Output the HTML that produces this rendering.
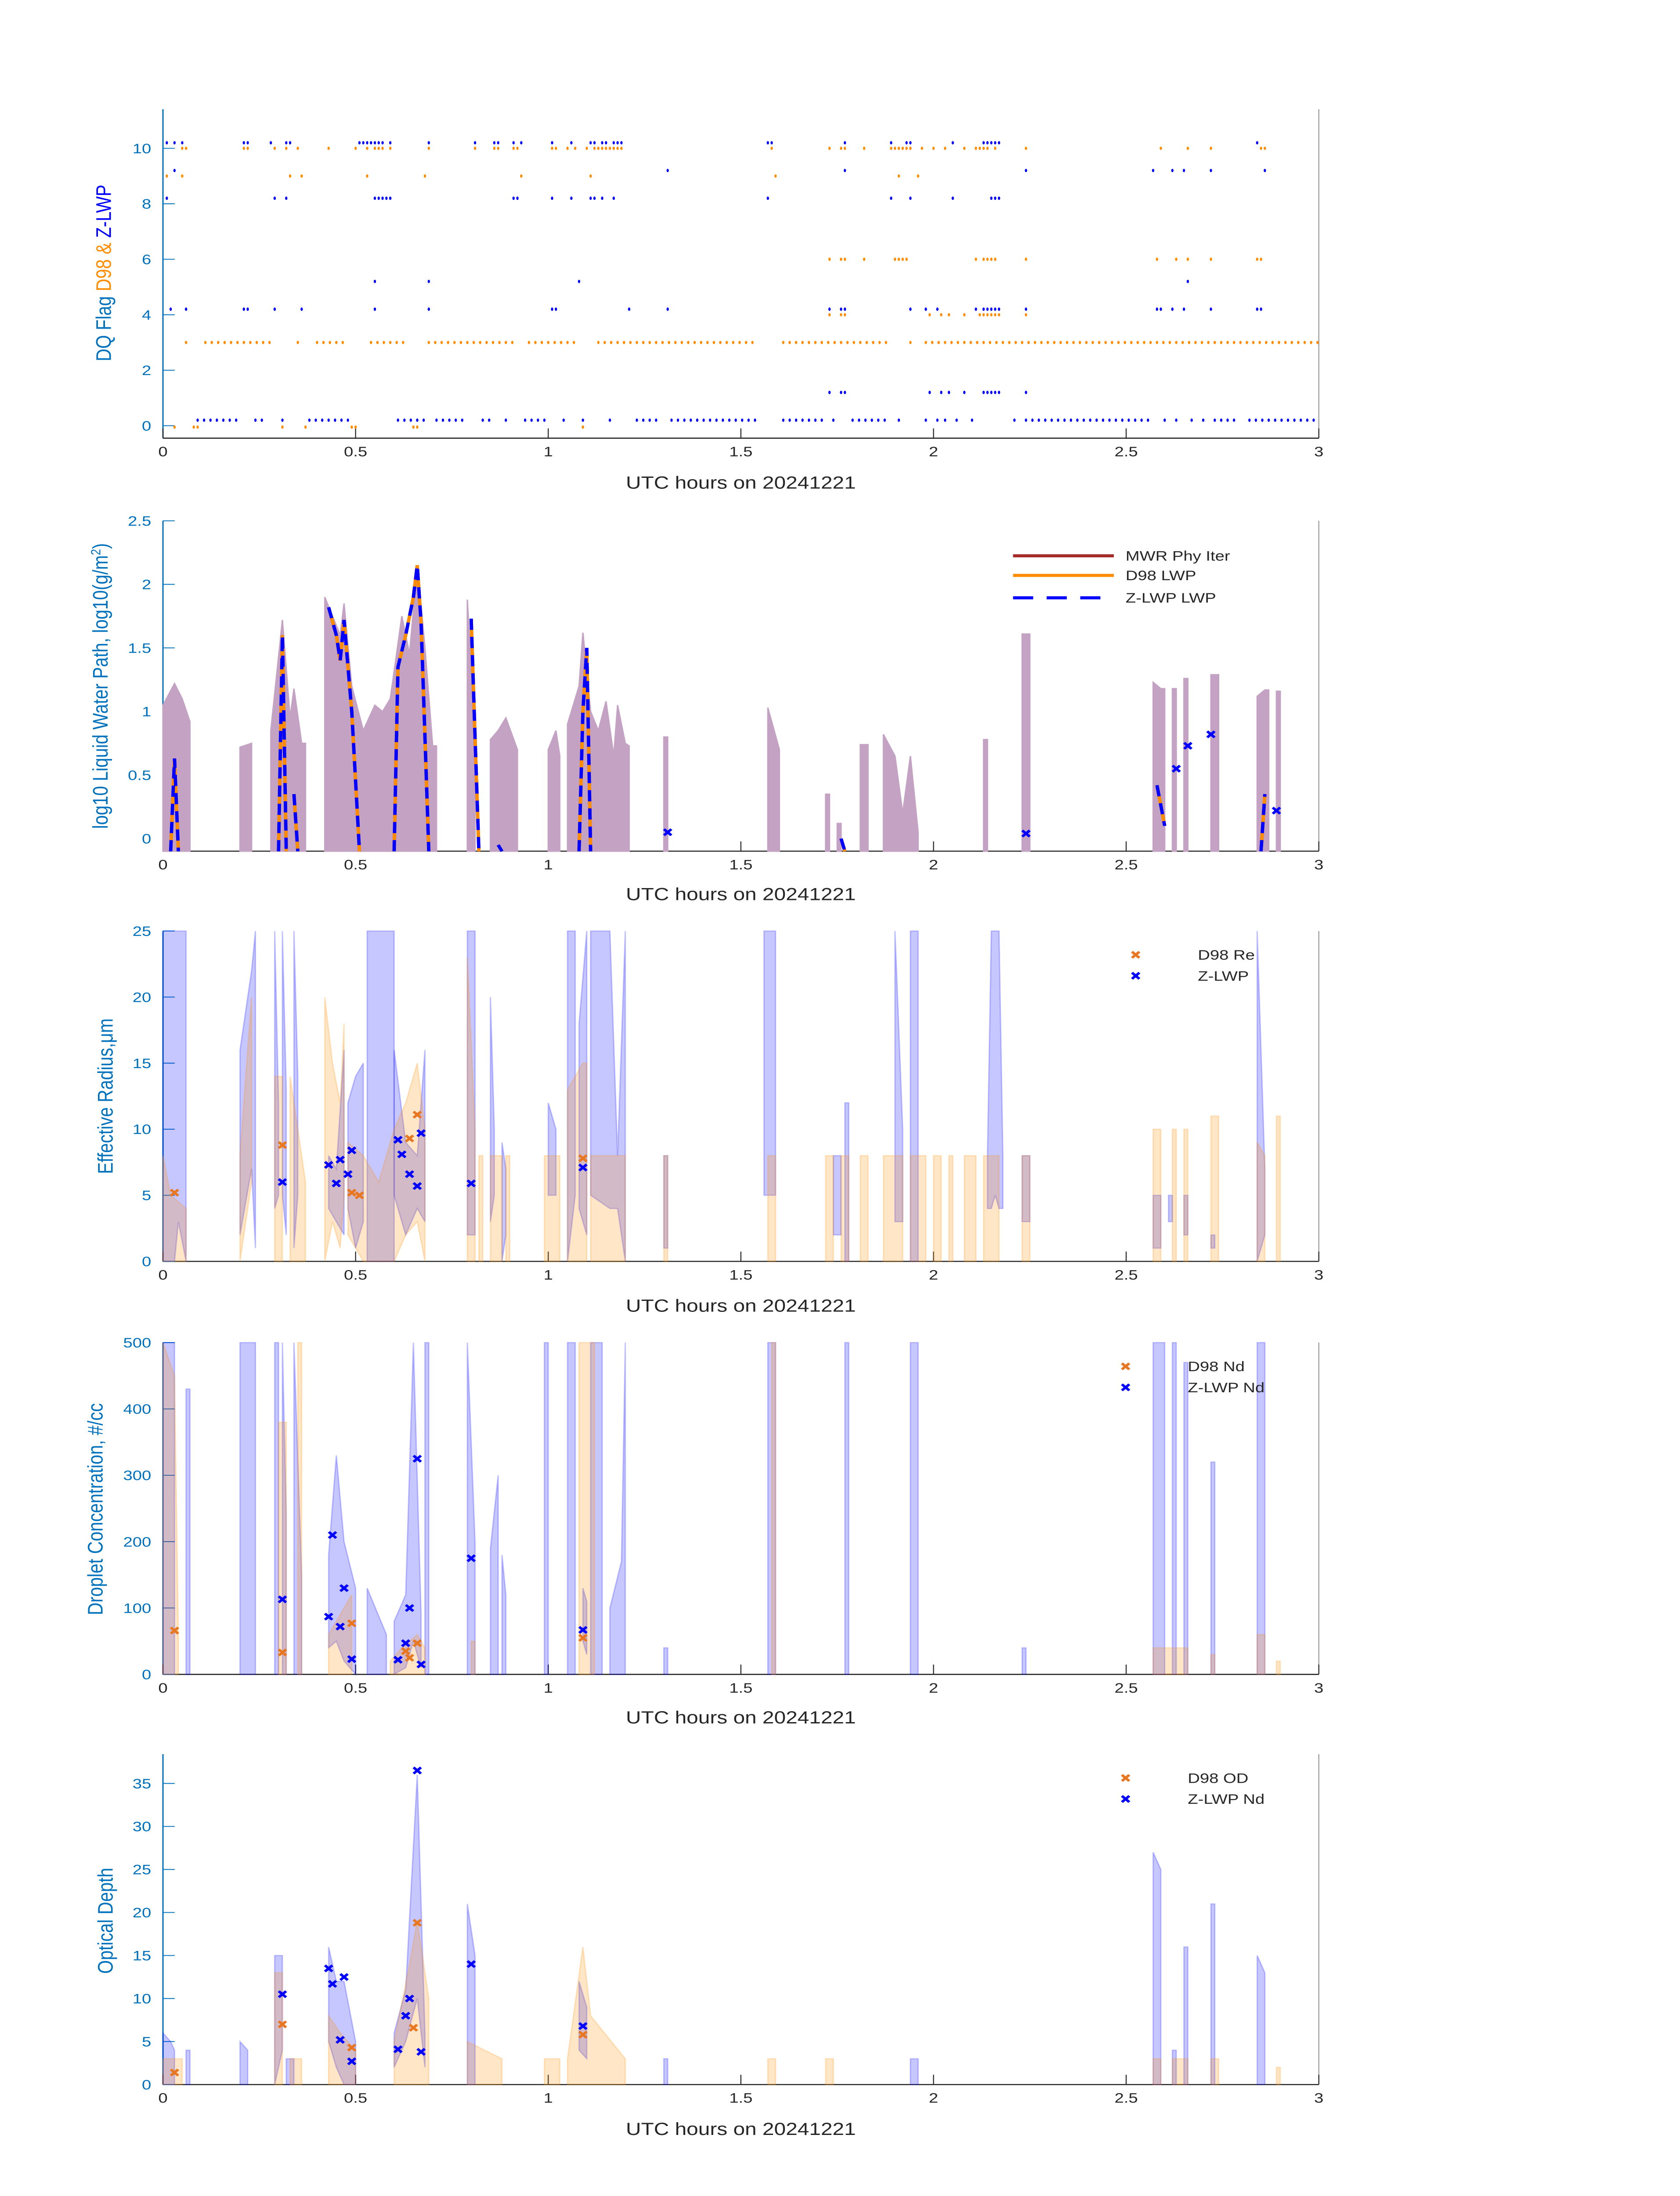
<!DOCTYPE html>
<html><head><meta charset="utf-8"><style>
html,body{margin:0;padding:0;background:#fff;width:100%;height:100%;overflow:hidden;}
svg{display:block;position:absolute;left:0;top:0;width:100vw;height:100vh;font-family:"Liberation Sans","DejaVu Sans",sans-serif;}
</style></head><body>
<svg id="fig" viewBox="0 0 1000 1568.6" preserveAspectRatio="none" xmlns="http://www.w3.org/2000/svg">
<rect x="0" y="0" width="1000" height="1568.6" fill="#fff"/>
</svg>
<script>
// ---------------- DATA ----------------
const zFlag10 = [0.01,0.03,0.05,0.21,0.22,0.28,0.32,0.33,0.51,0.52,0.53,0.54,0.55,0.56,0.57,0.59,0.69,0.81,0.86,0.87,0.91,0.93,1.01,1.06,1.11,1.12,1.14,1.15,1.17,1.18,1.19,1.57,1.58,1.77,1.89,1.93,1.94,2.05,2.13,2.14,2.15,2.16,2.17,2.84];
const dFlag10 = [0.05,0.06,0.21,0.22,0.29,0.32,0.35,0.43,0.5,0.53,0.55,0.56,0.57,0.59,0.69,0.81,0.86,0.87,0.91,0.92,1.01,1.02,1.05,1.07,1.1,1.12,1.13,1.14,1.15,1.16,1.17,1.18,1.19,1.58,1.73,1.76,1.77,1.82,1.89,1.9,1.91,1.92,1.93,1.94,1.97,2.0,2.03,2.08,2.11,2.12,2.13,2.14,2.16,2.24,2.59,2.66,2.72,2.85,2.86];
const zFlag9 = [0.03,1.31,1.77,2.24,2.57,2.62,2.65,2.72,2.86];
const dFlag9 = [0.01,0.05,0.33,0.36,0.53,0.68,0.93,1.11,1.59,1.91,1.96];
const zFlag8 = [0.01,0.29,0.32,0.55,0.56,0.57,0.58,0.59,0.91,0.92,1.01,1.06,1.11,1.12,1.14,1.17,1.57,1.89,1.94,2.05,2.15,2.16,2.17];
const dFlag6 = [1.73,1.76,1.77,1.82,1.90,1.91,1.92,1.93,2.11,2.13,2.14,2.15,2.16,2.24,2.58,2.63,2.66,2.72,2.84,2.85];
const zFlag5 = [0.55,0.69,1.08,2.66];
const zFlag4 = [0.02,0.06,0.21,0.22,0.29,0.36,0.55,0.69,1.01,1.02,1.21,1.31,1.73,1.76,1.77,1.94,1.98,2.01,2.11,2.13,2.14,2.15,2.16,2.17,2.24,2.58,2.59,2.62,2.65,2.72,2.84,2.85];
const dFlag4 = [1.73,1.76,1.77,1.99,2.02,2.04,2.08,2.12,2.13,2.14,2.15,2.16,2.17,2.24];
const dFlag3Runs = [[0.06,0.06],[0.11,0.29],[0.35,0.35],[0.40,0.47],[0.54,0.63],[0.69,0.92],[0.95,1.07],[1.13,1.54],[1.61,1.89],[1.94,1.95],[1.98,3.0]];
const zFlag1 = [1.73,1.76,1.77,1.99,2.02,2.04,2.08,2.13,2.14,2.15,2.16,2.17,2.24];
const zFlag0Runs = [[0.09,0.20],[0.24,0.27],[0.31,0.31],[0.38,0.49],[0.61,0.68],[0.71,0.79],[0.83,0.85],[0.89,0.89],[0.94,0.99],[1.04,1.04],[1.09,1.09],[1.16,1.16],[1.23,1.28],[1.32,1.55],[1.61,1.71],[1.74,1.74],[1.79,1.88],[1.91,1.92],[1.98,1.98],[2.01,2.01],[2.03,2.03],[2.06,2.07],[2.10,2.10],[2.21,2.22],[2.24,2.57],[2.60,2.60],[2.63,2.63],[2.67,2.68],[2.70,2.70],[2.73,2.79],[2.82,3.0]];
const dFlag0 = [0.03,0.08,0.09,0.31,0.37,0.49,0.50,0.65,0.66,1.09];

const lwpBands = [
 [[0.0,1.05],[0.03,1.22],[0.05,1.1],[0.07,0.92]],
 [[0.20,0.72],[0.23,0.75]],
 [[0.28,0.85],[0.31,1.72],[0.33,0.95],[0.34,1.18],[0.36,0.75],[0.37,0.75]],
 [[0.42,1.9],[0.46,1.6],[0.47,1.85],[0.49,1.2],[0.52,0.85],[0.55,1.05],[0.57,1.0],[0.59,1.1],[0.62,1.75],[0.64,1.45],[0.66,2.15],[0.68,1.5],[0.70,0.73],[0.71,0.73]],
 [[0.79,1.88],[0.81,0.8]],
 [[0.85,0.78],[0.87,0.85],[0.89,0.95],[0.92,0.7]],
 [[1.0,0.7],[1.02,0.85],[1.03,0.65]],
 [[1.05,0.9],[1.08,1.2],[1.09,1.62],[1.11,1.0],[1.13,0.85],[1.15,1.08],[1.17,0.65],[1.18,1.05],[1.20,0.75],[1.21,0.73]],
 [[1.30,0.8],[1.31,0.8]],
 [[1.57,1.03],[1.60,0.7]],
 [[1.72,0.35],[1.73,0.35]],
 [[1.75,0.12],[1.76,0.12]],
 [[1.81,0.74],[1.83,0.74]],
 [[1.87,0.82],[1.90,0.65],[1.92,0.2],[1.94,0.65],[1.96,0.05]],
 [[2.13,0.78],[2.14,0.78]],
 [[2.23,1.61],[2.25,1.61]],
 [[2.57,1.23],[2.59,1.18],[2.60,1.18]],
 [[2.62,1.18],[2.63,1.18]],
 [[2.65,1.26],[2.66,1.26]],
 [[2.72,1.29],[2.74,1.29]],
 [[2.84,1.12],[2.86,1.17],[2.87,1.17]],
 [[2.89,1.16],[2.90,1.16]]
];
const lwpLines = [
 [[0.02,-0.1],[0.03,0.63],[0.04,-0.1]],
 [[0.30,-0.1],[0.31,1.6],[0.32,-0.1]],
 [[0.34,0.35],[0.35,-0.1]],
 [[0.43,1.82],[0.45,1.6],[0.46,1.4],[0.47,1.72],[0.49,1.0],[0.51,-0.1]],
 [[0.60,-0.1],[0.61,1.35],[0.63,1.6],[0.65,1.9],[0.66,2.15],[0.67,1.7],[0.69,-0.1]],
 [[0.80,1.73],[0.81,0.8],[0.82,-0.1]],
 [[0.87,-0.05],[0.88,-0.1]],
 [[1.08,-0.1],[1.09,1.0],[1.10,1.5],[1.11,-0.1]],
 [[1.76,0.0],[1.77,-0.1]],
 [[2.58,0.42],[2.60,0.1]],
 [[2.85,-0.1],[2.86,0.35]]
];
const lwpZT = [1.31,2.24,2.63,2.66,2.72,2.89];
const lwpZV = [0.05,0.04,0.55,0.73,0.82,0.22];

const reBlueBands = [
 [[0.0,0,25],[0.03,0,25],[0.04,3,25],[0.06,0,25]],
 [[0.20,2,16],[0.23,7,22],[0.24,1,25]],
 [[0.29,4,25],[0.30,5,12]],
 [[0.31,5,25],[0.32,2,13]],
 [[0.34,1,25],[0.35,5,14]],
 [[0.43,4,8],[0.45,3,7],[0.47,2,16]],
 [[0.48,4,12],[0.50,1,14],[0.52,3,15]],
 [[0.53,0,25],[0.60,0,25]],
 [[0.60,5,16],[0.63,2,9],[0.66,4,8],[0.68,3,16]],
 [[0.79,2,25],[0.81,2,25]],
 [[0.85,3,20],[0.86,5,10]],
 [[0.88,0,9],[0.89,2,7]],
 [[1.0,5,12],[1.02,5,10]],
 [[1.05,0,25],[1.07,5,25]],
 [[1.08,4,18],[1.10,2,25]],
 [[1.11,5,25],[1.16,4,25],[1.18,4,8],[1.20,0,25]],
 [[1.30,1,8],[1.31,1,8]],
 [[1.56,5,25],[1.59,5,25]],
 [[1.74,2,8],[1.76,2,8]],
 [[1.77,0,12],[1.78,0,12]],
 [[1.90,3,25],[1.92,3,10]],
 [[1.94,0,25],[1.96,0,25]],
 [[2.14,4,8],[2.15,4,25],[2.16,5,25],[2.17,4,25],[2.18,4,8]],
 [[2.23,3,8],[2.25,3,8]],
 [[2.57,1,5],[2.59,1,5]],
 [[2.61,3,5],[2.62,3,5]],
 [[2.65,2,5],[2.66,2,5]],
 [[2.72,1,2],[2.73,1,2]],
 [[2.84,0,25],[2.86,2,7]]
];
const reOrangeBands = [
 [[0.0,0,8],[0.02,0,5],[0.06,0,4]],
 [[0.20,0,8],[0.23,6,20]],
 [[0.29,0,14],[0.31,0,14]],
 [[0.33,0,14],[0.37,0,6]],
 [[0.42,0,20],[0.44,3,15],[0.46,1,12],[0.47,5,18]],
 [[0.48,2,9],[0.52,0,8],[0.56,0,6],[0.60,0,10],[0.63,2,12],[0.66,3,15],[0.68,0,10]],
 [[0.79,0,23],[0.81,0,10]],
 [[0.82,0,8],[0.83,0,8]],
 [[0.85,0,8],[0.88,0,8]],
 [[0.89,0,8],[0.90,0,8]],
 [[0.99,0,8],[1.03,0,8]],
 [[1.05,0,13],[1.09,0,15],[1.10,0,15]],
 [[1.11,0,8],[1.20,0,8]],
 [[1.30,0,8],[1.31,0,8]],
 [[1.57,0,8],[1.59,0,8]],
 [[1.72,0,8],[1.74,0,8]],
 [[1.76,0,8],[1.78,0,8]],
 [[1.81,0,8],[1.83,0,8]],
 [[1.87,0,8],[1.92,0,8]],
 [[1.94,0,8],[1.98,0,8]],
 [[2.0,0,8],[2.02,0,8]],
 [[2.04,0,8],[2.05,0,8]],
 [[2.08,0,8],[2.11,0,8]],
 [[2.13,0,8],[2.17,0,8]],
 [[2.23,0,8],[2.25,0,8]],
 [[2.57,0,10],[2.59,0,10]],
 [[2.62,0,10],[2.63,0,10]],
 [[2.65,0,10],[2.66,0,10]],
 [[2.72,0,11],[2.74,0,11]],
 [[2.84,0,9],[2.86,0,8]],
 [[2.89,0,11],[2.90,0,11]]
];
const reDT = [0.03,0.31,0.49,0.51,0.64,0.66,1.09];
const reDV = [5.2,8.8,5.2,5.0,9.3,11.1,7.8];
const reZT = [0.31,0.43,0.45,0.46,0.48,0.49,0.61,0.62,0.64,0.66,0.67,0.80,1.09];
const reZV = [6.0,7.3,5.9,7.7,6.6,8.4,9.2,8.1,6.6,5.7,9.7,5.9,7.1];

const ndBlueBands = [
 [[0.0,0,500],[0.03,0,500]],
 [[0.06,0,430],[0.07,0,430]],
 [[0.20,0,500],[0.24,0,500]],
 [[0.29,0,500],[0.30,0,500]],
 [[0.31,0,500],[0.32,0,240]],
 [[0.34,0,500],[0.36,0,150]],
 [[0.43,40,180],[0.45,50,330],[0.47,20,200],[0.50,0,130]],
 [[0.53,0,130],[0.58,0,60]],
 [[0.60,0,80],[0.63,10,120],[0.65,50,500],[0.67,10,90]],
 [[0.68,0,500],[0.69,0,500]],
 [[0.79,0,500],[0.81,0,200]],
 [[0.85,0,190],[0.87,0,300]],
 [[0.88,0,180],[0.89,0,120]],
 [[0.99,0,500],[1.00,0,500]],
 [[1.05,0,500],[1.07,0,500]],
 [[1.09,50,130],[1.10,30,110]],
 [[1.11,0,500],[1.14,0,500]],
 [[1.16,0,100],[1.19,0,170],[1.20,0,500]],
 [[1.30,0,40],[1.31,0,40]],
 [[1.57,0,500],[1.59,0,500]],
 [[1.77,0,500],[1.78,0,500]],
 [[1.94,0,500],[1.96,0,500]],
 [[2.23,0,40],[2.24,0,40]],
 [[2.57,0,500],[2.60,0,500]],
 [[2.62,0,500],[2.63,0,500]],
 [[2.65,0,470],[2.66,0,470]],
 [[2.72,0,320],[2.73,0,320]],
 [[2.84,0,500],[2.86,0,500]]
];
const ndOrangeBands = [
 [[0.0,0,500],[0.03,0,450],[0.04,0,60]],
 [[0.30,0,380],[0.32,0,380]],
 [[0.35,0,500],[0.36,0,500]],
 [[0.43,0,60],[0.49,0,120]],
 [[0.59,0,20],[0.62,0,40],[0.66,0,60],[0.68,0,40]],
 [[0.80,0,50],[0.81,0,50]],
 [[1.08,0,500],[1.12,0,500]],
 [[1.58,0,500],[1.59,0,500]],
 [[2.57,0,40],[2.66,0,40]],
 [[2.72,0,30],[2.73,0,30]],
 [[2.84,0,60],[2.86,0,60]],
 [[2.89,0,20],[2.90,0,20]]
];
const ndDT = [0.03,0.31,0.49,0.63,0.64,0.66,1.09];
const ndDV = [66,33,77,35,25,47,55];
const ndZT = [0.31,0.43,0.44,0.46,0.47,0.49,0.61,0.63,0.64,0.66,0.67,0.80,1.09];
const ndZV = [113,87,210,72,130,23,22,47,100,325,15,175,67];

const odBlueBands = [
 [[0.0,0,6],[0.02,0,5],[0.03,0,4]],
 [[0.06,0,4],[0.07,0,4]],
 [[0.20,0,5],[0.22,0,4]],
 [[0.29,0,15],[0.31,4,15]],
 [[0.32,0,3],[0.34,0,3]],
 [[0.43,5,16],[0.45,2,12],[0.47,0,12],[0.50,0,5]],
 [[0.60,2,6],[0.63,5,11],[0.66,10,36],[0.68,2,6]],
 [[0.79,0,21],[0.81,0,15]],
 [[1.08,4,12],[1.10,3,9]],
 [[1.30,0,3],[1.31,0,3]],
 [[1.94,0,3],[1.96,0,3]],
 [[2.57,0,27],[2.59,0,25]],
 [[2.62,0,4],[2.63,0,4]],
 [[2.65,0,16],[2.66,0,16]],
 [[2.72,0,21],[2.73,0,21]],
 [[2.84,0,15],[2.86,0,13]]
];
const odOrangeBands = [
 [[0.0,0,3],[0.05,0,3]],
 [[0.29,0,13],[0.31,0,13]],
 [[0.33,0,3],[0.36,0,3]],
 [[0.43,0,8],[0.46,0,6],[0.50,0,4]],
 [[0.60,0,5],[0.64,0,14],[0.66,0,19],[0.69,0,10]],
 [[0.79,0,5],[0.88,0,3]],
 [[0.99,0,3],[1.03,0,3]],
 [[1.05,0,3],[1.09,0,16],[1.11,0,8],[1.20,0,3]],
 [[1.57,0,3],[1.59,0,3]],
 [[1.72,0,3],[1.74,0,3]],
 [[2.57,0,3],[2.59,0,3]],
 [[2.62,0,3],[2.66,0,3]],
 [[2.72,0,3],[2.74,0,3]],
 [[2.89,0,2],[2.90,0,2]]
];
const odDT = [0.03,0.31,0.49,0.65,0.66,1.09];
const odDV = [1.4,7.0,4.3,6.6,18.8,5.8];
const odZT = [0.31,0.43,0.44,0.46,0.47,0.49,0.61,0.63,0.64,0.66,0.67,0.80,1.09];
const odZV = [10.5,13.5,11.7,5.2,12.5,2.7,4.1,8.0,10.0,36.5,3.8,14.0,6.8];

const xTicks = [0,0.5,1,1.5,2,2.5,3];
const xTickLabels = ['0','0.5','1','1.5','2','2.5','3'];

// ---------------- DRAWING ----------------
const NS='http://www.w3.org/2000/svg';
const svg=document.getElementById('fig');
const X0=97, X1=785;
function xs(t){return X0+(t/3)*(X1-X0);}
function mk(tag,attrs,parent){const e=document.createElementNS(NS,tag);for(const k in attrs)e.setAttribute(k,attrs[k]);(parent||svg).appendChild(e);return e;}
function yScale(p){return v=>p.pb-(v-p.vb)/(p.vt-p.vb)*(p.pb-p.pt);}
const AX='#0072BD', DK='#262626';

const panels=[
 {id:'dq',top:78,bot:313,vb:-0.45,vt:11.41,pb:313,pt:78,ticks:[0,2,4,6,8,10],lbl:['0','2','4','6','8','10'],xl:345},
 {id:'lwp',top:372,bot:608,vb:-0.099,vt:2.5,pb:608,pt:372,ticks:[0,0.5,1,1.5,2,2.5],lbl:['0','0.5','1','1.5','2','2.5'],xl:639},
 {id:'re',top:665,bot:901,vb:0,vt:25,pb:901,pt:665,ticks:[0,5,10,15,20,25],lbl:['0','5','10','15','20','25'],xl:933},
 {id:'nd',top:959,bot:1196,vb:0,vt:500,pb:1196,pt:959,ticks:[0,100,200,300,400,500],lbl:['0','100','200','300','400','500'],xl:1227},
 {id:'od',top:1253,bot:1489,vb:0,vt:38.4,pb:1489,pt:1253,ticks:[0,5,10,15,20,25,30,35],lbl:['0','5','10','15','20','25','30','35'],xl:1521}
];

function drawAxes(p){
  const g=mk('g',{});
  
  
  const y=yScale(p);
  mk('line',{x1:X1,y1:p.top,x2:X1,y2:p.bot,stroke:'#9a9a9a','stroke-width':0.6},g);
  mk('line',{x1:X0,y1:p.bot,x2:X1,y2:p.bot,stroke:DK,'stroke-width':0.8},g);
  mk('line',{x1:X0,y1:p.top,x2:X0,y2:p.bot,stroke:AX,'stroke-width':0.8},g);
  xTicks.forEach((t,i)=>{
    mk('line',{x1:xs(t),y1:p.bot,x2:xs(t),y2:p.bot-7,stroke:DK,'stroke-width':0.6},g);
    const tx=mk('text',{x:xs(t),y:p.bot+13,'font-size':10,'text-anchor':'middle',fill:DK},g);
    
    
    tx.textContent=xTickLabels[i];
  });
  p.ticks.forEach((v,i)=>{
    mk('line',{x1:X0,y1:y(v),x2:X0+7,y2:y(v),stroke:AX,'stroke-width':0.6},g);
    const tx=mk('text',{x:X0-7,y:y(v)+3.5,'font-size':10,'text-anchor':'end',fill:AX},g);
    
    
    tx.textContent=p.lbl[i];
  });
  const xl=mk('text',{x:441,y:p.xl+4,'font-size':12.5,'text-anchor':'middle',fill:DK},g);
  
  
  xl.textContent='UTC hours on 20241221';
  return y;
}

function band(pts,y,fill,op,name){
  let d='';
  pts.forEach((p,i)=>{d+=(i?'L':'M')+xs(p[0]).toFixed(2)+','+y(p[2]).toFixed(2);});
  for(let i=pts.length-1;i>=0;i--){d+='L'+xs(pts[i][0]).toFixed(2)+','+y(pts[i][1]).toFixed(2);}
  const e=mk('path',{d:d+'Z',fill:fill,'fill-opacity':op,stroke:fill,'stroke-opacity':op,'stroke-width':0.8});
  
  
}
function xmark(cx,cy,color,name){
  const e=mk('path',{d:`M${cx-2.2},${cy-2.2}L${cx+2.2},${cy+2.2}M${cx-2.2},${cy+2.2}L${cx+2.2},${cy-2.2}`,stroke:color,'stroke-width':1.7,fill:'none'});
  
  
}
function dot(cx,cy,color,name){
  const e=mk('ellipse',{cx:cx,cy:cy,rx:0.7,ry:1.2,fill:color});
  
  
}
function ylabel(x,yc,parts,name){
  const t=mk('text',{x:0,y:0,'font-size':12.5,'text-anchor':'middle',transform:`translate(${x},${yc}) rotate(-90)`});
  
  
  parts.forEach(p=>{const s=mk('tspan',{fill:p[1]},t);if(p[2])s.setAttribute('baseline-shift','super');if(p[2])s.setAttribute('font-size','8');s.textContent=p[0];});
}
function legendText(x,y,s){
  const t=mk('text',{x:x,y:y+3.5,'font-size':10,fill:DK});
  
  
  t.textContent=s;
}
const OR='#FF8C00', BL='#0000FF', STEP=1/60;

(function(){
  const p=panels[0]; const y=drawAxes(p);
  const pts=(arr,v,c,off,n)=>arr.forEach(t=>dot(xs(t),y(v+off),c,n));
  const runs=(arr,v,c,off,n)=>arr.forEach(r=>{for(let t=r[0];t<=r[1]+1e-6;t+=STEP)dot(xs(t),y(v+off),c,n);});
  pts(dFlag10,10,OR,0,'d98-flag-point'); pts(zFlag10,10,BL,0.2,'zlwp-flag-point');
  pts(dFlag9,9,OR,0,'d98-flag-point'); pts(zFlag9,9,BL,0.2,'zlwp-flag-point');
  pts(zFlag8,8,BL,0.2,'zlwp-flag-point'); pts(dFlag6,6,OR,0,'d98-flag-point');
  pts(zFlag5,5,BL,0.2,'zlwp-flag-point');
  pts(dFlag4,4,OR,0,'d98-flag-point'); pts(zFlag4,4,BL,0.2,'zlwp-flag-point');
  runs(dFlag3Runs,3,OR,0,'d98-flag-point');
  pts(zFlag1,1,BL,0.2,'zlwp-flag-point');
  runs(zFlag0Runs,0,BL,0.2,'zlwp-flag-point');
  pts(dFlag0,0,OR,-0.05,'d98-flag-point');
  ylabel(66,195,[['DQ Flag  ',AX],['D98 & ',OR],[' Z-LWP',BL]],'y-axis-title');
})();

(function(){
  const p=panels[1]; const y=drawAxes(p);
  lwpBands.forEach(b=>band(b.map(q=>[q[0],p.vb,q[1]]),y,'#C4A2C4',1,'lwp-uncertainty-band'));
  const line=(seg,c,w,dash,n)=>{
    const e=mk('polyline',{points:seg.map(q=>xs(q[0]).toFixed(2)+','+y(q[1]).toFixed(2)).join(' '),fill:'none',stroke:c,'stroke-width':w,'stroke-dasharray':dash});
    
    
  };
  lwpLines.forEach(s=>line(s,'#A52A2A',2,'none','mwr-lwp-line'));
  lwpLines.forEach(s=>line(s,OR,2,'none','d98-lwp-line'));
  lwpLines.forEach(s=>line(s,BL,2,'8,5','zlwp-lwp-line'));
  lwpZT.forEach((t,i)=>xmark(xs(t),y(lwpZV[i]),BL,'zlwp-lwp-marker'));
  const lg=[['MWR Phy Iter','#A52A2A','none',397],['D98 LWP',OR,'none',411],['Z-LWP LWP',BL,'12,8',427]];
  lg.forEach(l=>{
    const e=mk('line',{x1:603,y1:l[3],x2:663,y2:l[3],stroke:l[1],'stroke-width':2.2,'stroke-dasharray':l[2]});
    
    
    legendText(670,l[3],l[0]);
  });
  ylabel(64,490,[['log10 Liquid Water Path, log10(g/m',AX],['2',AX,1],[')',AX]],'y-axis-title');
})();

function stdPanel(idx,blue,orange,dT,dV,zT,zV,title,lx,lbls,lgx,lgy,yt){
  const p=panels[idx]; const y=drawAxes(p);
  blue.forEach(b=>band(b,y,BL,0.22,'zlwp-uncertainty-band'));
  orange.forEach(b=>band(b,y,OR,0.22,'d98-uncertainty-band'));
  dT.forEach((t,i)=>xmark(xs(t),y(dV[i]),'#E87722','d98-marker'));
  zT.forEach((t,i)=>xmark(xs(t),y(zV[i]),BL,'zlwp-marker'));
  xmark(lgx,lgy,'#E87722','legend-marker');
  xmark(lgx,lgy+15,BL,'legend-marker');
  legendText(lgx+37,lgy,lbls[0]);
  legendText(lgx+37,lgy+15,lbls[1]);
  ylabel(lx,yt,[[title,AX]],'y-axis-title');
}
stdPanel(2,reBlueBands,reOrangeBands,reDT,reDV,reZT,reZV,'Effective Radius,\u03BCm',67,['D98 Re','Z-LWP'],676,682,783);
stdPanel(3,ndBlueBands,ndOrangeBands,ndDT,ndDV,ndZT,ndZV,'Droplet Concentration, #/cc',61,['D98 Nd','Z-LWP Nd'],670,976,1078);
stdPanel(4,odBlueBands,odOrangeBands,odDT,odDV,odZT,odZV,'Optical Depth',67,['D98 OD','Z-LWP Nd'],670,1270,1372);
</script>
</body></html>
